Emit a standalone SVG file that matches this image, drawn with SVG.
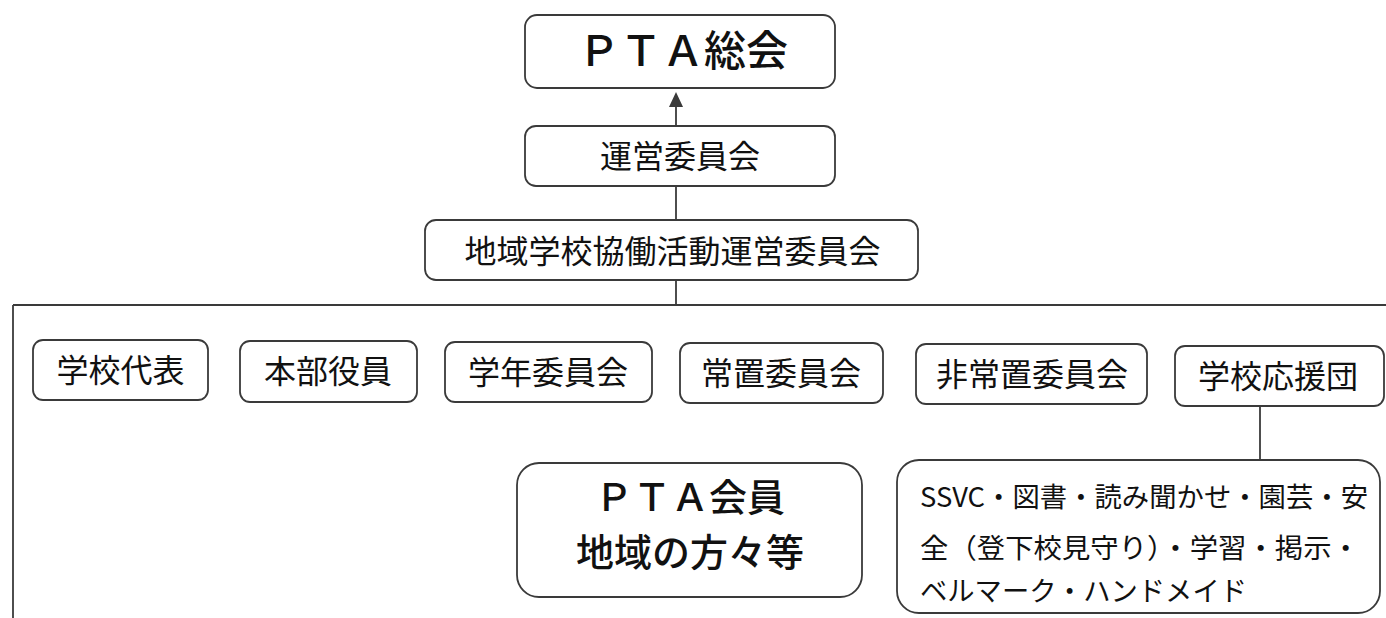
<svg xmlns="http://www.w3.org/2000/svg" width="1386" height="618" viewBox="0 0 1386 618">
<style>
.box{fill:#fff;stroke:#3a3a3a;stroke-width:1.8}
.ln{fill:none;stroke:#3a3a3a;stroke-width:1.8}
text{font-family:"Noto Sans CJK JP","Noto Sans CJK SC",sans-serif;fill:#111;text-anchor:middle}
.t32{font-size:32px}
.t42{font-size:42px;font-weight:500}
.t38{font-size:38px;font-weight:500}
.t27{font-size:27.5px;text-anchor:start}
</style>
<rect width="1386" height="618" fill="#fff"/>
<g id="connectors">
<line class="ln" x1="676" y1="106" x2="676" y2="126"/>
<polygon points="676,92 669,107 683,107" fill="#3a3a3a"/>
<line class="ln" x1="676" y1="186" x2="676" y2="220"/>
<line class="ln" x1="676" y1="280" x2="676" y2="305"/>
<line class="ln" x1="13" y1="305" x2="1386" y2="305"/>
<line class="ln" x1="13" y1="305" x2="13" y2="618"/>
<line class="ln" x1="1260" y1="406" x2="1260" y2="460"/>
</g>
<g id="pta-soukai">
<rect class="box" x="525" y="15" width="310" height="73" rx="12"/>
<text class="t42" x="683" y="66">ＰＴＡ総会</text>
</g>
<g id="unei">
<rect class="box" x="525" y="126" width="310" height="60" rx="11"/>
<text class="t32" x="680" y="167.5">運営委員会</text>
</g>
<g id="chiiki">
<rect class="box" x="425" y="220" width="493" height="60" rx="11"/>
<text class="t32" x="672.5" y="262.5">地域学校協働活動運営委員会</text>
</g>
<g id="gakkou-daihyou">
<rect class="box" x="33" y="340" width="175" height="60" rx="10"/>
<text class="t32" x="120.5" y="381.5">学校代表</text>
</g>
<g id="honbu">
<rect class="box" x="240" y="341" width="177" height="61" rx="10"/>
<text class="t32" x="328" y="383">本部役員</text>
</g>
<g id="gakunen">
<rect class="box" x="445" y="342" width="207" height="60" rx="10"/>
<text class="t32" x="548" y="383.5">学年委員会</text>
</g>
<g id="jouchi">
<rect class="box" x="680" y="343" width="203" height="60" rx="10"/>
<text class="t32" x="781" y="384.5">常置委員会</text>
</g>
<g id="hijouchi">
<rect class="box" x="916" y="344" width="231" height="60" rx="10"/>
<text class="t32" x="1032" y="385.5">非常置委員会</text>
</g>
<g id="ouendan">
<rect class="box" x="1175" y="346" width="209" height="60" rx="10"/>
<text class="t32" x="1278" y="387.5">学校応援団</text>
</g>
<g id="pta-kaiin">
<rect class="box" x="517" y="463" width="345" height="134" rx="22"/>
<text class="t38" x="690" y="511">ＰＴＡ会員</text>
<text class="t38" x="690" y="566">地域の方々等</text>
</g>
<g id="katsudou">
<rect class="box" x="897" y="460" width="483" height="153" rx="22"/>
<text class="t27" x="920" y="507" textLength="448" lengthAdjust="spacingAndGlyphs">SSVC・図書・読み聞かせ・園芸・安</text>
<text class="t27" x="920" y="558" textLength="440" lengthAdjust="spacingAndGlyphs">全（登下校見守り）・学習・掲示・</text>
<text class="t27" x="920" y="601" textLength="327" lengthAdjust="spacingAndGlyphs">ベルマーク・ハンドメイド</text>
</g>
</svg>
